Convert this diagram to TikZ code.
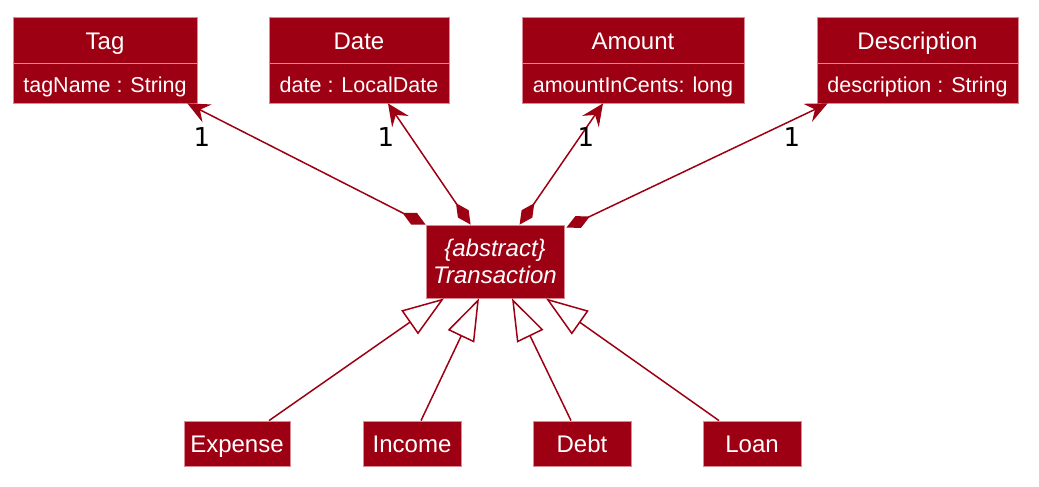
\documentclass[tikz,border=0pt]{standalone}
\usepackage{fontspec}
\setmainfont{Liberation Sans}
\newfontfamily\multfont{DejaVu Sans}
\usetikzlibrary{arrows.meta,calc}
\definecolor{model}{HTML}{9D0012}
\definecolor{boxedge}{HTML}{D98A94}
\begin{document}
\begin{tikzpicture}[x=1pt,y=-1pt,
  classhead/.style={fill=model, draw=boxedge, line width=0.8pt, text=white, inner sep=0pt,
    font=\fontsize{24}{28}\selectfont, minimum height=46pt, text height=20pt, text depth=0pt},
  classattr/.style={fill=model, draw=boxedge, line width=0.8pt, text=white, inner sep=0pt,
    font=\fontsize{21.5}{25}\selectfont, minimum height=40pt, text height=19.5pt, text depth=0pt},
  leaf/.style={fill=model, draw=boxedge, line width=0.8pt, text=white, inner sep=0pt,
    font=\fontsize{24}{28}\selectfont, minimum height=45pt, text height=18pt, text depth=0pt},
  absbox/.style={fill=model, draw=boxedge, line width=0.8pt, text=white, inner sep=0pt,
    align=center, font=\fontsize{24}{27}\selectfont\itshape, minimum width=138pt, minimum height=73pt},
  comp/.style={draw=model, line width=1.5pt,
    {Diamond[length=26pt,width=13pt]}-{Stealth[length=22pt,width=20pt,inset=8pt]}},
  gen/.style={draw=model, line width=1.5pt,
    -{Triangle[open,length=42pt,width=29pt,fill=white]}},
  mult/.style={font=\multfont\fontsize{26}{30}\selectfont, text=black, inner sep=0pt}
]
\useasboundingbox (0,0) rectangle (1039,487);

% top classes
\node[classhead, minimum width=184pt] (tag) at (105,40) {Tag};
\node[classattr, minimum width=184pt] (tagattr) at (105,83) {tagName : String};
\node[classhead, minimum width=180pt] (date) at (359,40) {Date};
\node[classattr, minimum width=180pt] (dateattr) at (359,83) {date : LocalDate};
\node[classhead, minimum width=222pt] (amount) at (633,40) {Amount};
\node[classattr, minimum width=222pt] (amountattr) at (633,83) {amountInCents: long};
\node[classhead, minimum width=201pt] (desc) at (917.5,40) {Description};
\node[classattr, minimum width=201pt] (descattr) at (917.5,83) {description : String};

% abstract class
\node[absbox] (trans) at (495,261.5) {\{abstract\}\\Transaction};

% subclasses
\node[leaf, minimum width=106pt] (expense) at (237,443.5) {Expense};
\node[leaf, minimum width=98pt] (income) at (412,443.5) {Income};
\node[leaf, minimum width=98pt] (debt) at (582,443.5) {Debt};
\node[leaf, minimum width=98pt] (loan) at (752,443.5) {Loan};

% compositions
\draw[comp] (trans.north west) -- ([xshift=-10pt]tagattr.south east);
\draw[comp] ([xshift=45pt]trans.north west) -- ([xshift=29pt]dateattr.south);
\draw[comp] ([xshift=94pt]trans.north west) -- ([xshift=-30pt]amountattr.south);
\draw[comp] ([xshift=2pt,yshift=-3pt]trans.north east) -- ([xshift=11pt]descattr.south west);

% multiplicities
\node[mult] (m1) at (202,137) {1};
\node[mult] (m2) at (386,137) {1};
\node[mult] (m3) at (586,137) {1};
\node[mult] (m4) at (792,137) {1};

% generalizations
\draw[gen] ([xshift=32pt]expense.north) -- ([xshift=-51pt]trans.south);
\draw[gen] ([xshift=9pt]income.north) -- ([xshift=-16pt]trans.south);
\draw[gen] ([xshift=-11pt]debt.north) -- ([xshift=17pt]trans.south);
\draw[gen] ([xshift=-33pt]loan.north) -- ([xshift=51pt]trans.south);
\end{tikzpicture}
\end{document}
